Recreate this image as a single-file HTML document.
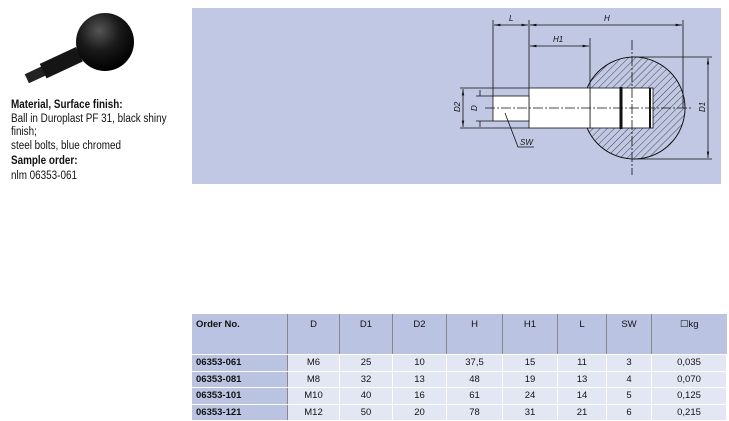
<!DOCTYPE html>
<html><head><meta charset="utf-8"><style>
body{margin:0;width:729px;height:420px;background:#fff;font-family:"Liberation Sans",sans-serif;position:relative;overflow:hidden}
.t{position:absolute;left:11px;font-size:11.5px;color:#111;white-space:nowrap;transform:scaleX(0.86);transform-origin:0 0}
.b{font-weight:bold}
table{position:absolute;left:192px;top:314px;width:535px;border-collapse:collapse;font-size:9.5px;color:#111}
td{border-right:1px solid #fff;border-bottom:1px solid #fff;text-align:center;height:15.5px;padding:0;background:#e3e7f3}
tr.h td{background:#bac3e1;height:35px;vertical-align:top;padding-top:5px;border-right:1px solid #888}
td.f{text-align:left;padding-left:4px;font-weight:bold;background:#bac3e1;border-right:1px solid #888}
</style></head><body>
<svg style="position:absolute;left:0;top:0" width="190" height="90">
<defs><radialGradient id="g" cx="0.4" cy="0.3" r="0.7"><stop offset="0" stop-color="#555"/><stop offset="0.5" stop-color="#1a1a1a"/><stop offset="1" stop-color="#000"/></radialGradient></defs>
<g transform="rotate(-25 60 60)">
<rect x="22" y="58" width="20" height="10" fill="#222"/>
<rect x="40" y="55" width="40" height="16" fill="#151515"/>
</g>
<circle cx="105" cy="42" r="29" fill="url(#g)"/>
</svg>
<div class="t b" style="top:99px">Material, Surface finish:</div>
<div class="t" style="top:113px">Ball in Duroplast PF 31, black shiny</div>
<div class="t" style="top:126px">finish;</div>
<div class="t" style="top:140px">steel bolts, blue chromed</div>
<div class="t b" style="top:155px">Sample order:</div>
<div class="t" style="top:170px">nlm 06353-061</div>

<svg style="position:absolute;left:192px;top:8px" width="529" height="176" viewBox="192 8 529 176">
<rect x="192" y="8" width="529" height="176" fill="#c0c8e4"/>
<defs><pattern id="h" width="5" height="5" patternUnits="userSpaceOnUse" patternTransform="rotate(45)"><line x1="0" y1="0" x2="0" y2="5" stroke="#222" stroke-width="0.8"/></pattern>
<marker id="a" markerWidth="8" markerHeight="6" refX="8" refY="3" orient="auto-start-reverse"><path d="M0,1.5 L8,3 L0,4.5z" fill="#111"/></marker></defs>
<g stroke="#111" stroke-width="0.8" fill="none">
<circle cx="634" cy="108" r="51" fill="url(#h)"/>
<circle cx="634" cy="108" r="51"/>
<rect x="590" y="88" width="63" height="40" fill="#fff"/>
<rect x="529" y="88" width="61" height="40" fill="#fff"/>
<rect x="493" y="96" width="36" height="25" fill="#fff"/>
<line x1="621" y1="87" x2="621" y2="129" stroke-width="3"/>
<line x1="650" y1="88" x2="650" y2="128" stroke-width="2"/>
<line x1="485" y1="108" x2="692" y2="108" stroke-dasharray="10,2,2,2"/>
<line x1="632" y1="40" x2="632" y2="175" stroke-dasharray="10,2,2,2"/>
<line x1="493" y1="20" x2="493" y2="96"/><line x1="529" y1="20" x2="529" y2="88"/>
<line x1="683" y1="20" x2="683" y2="108"/><line x1="590" y1="38" x2="590" y2="88"/>
<line x1="494" y1="25" x2="528" y2="25" marker-start="url(#a)" marker-end="url(#a)"/>
<line x1="530" y1="25" x2="682" y2="25" marker-start="url(#a)" marker-end="url(#a)"/>
<line x1="530" y1="46" x2="589" y2="46" marker-start="url(#a)" marker-end="url(#a)"/>
<line x1="634" y1="57" x2="712" y2="57"/><line x1="634" y1="159" x2="712" y2="159"/>
<line x1="708" y1="58" x2="708" y2="158" marker-start="url(#a)" marker-end="url(#a)"/>
<line x1="460" y1="88" x2="529" y2="88"/><line x1="460" y1="128" x2="529" y2="128"/>
<line x1="476" y1="96" x2="493" y2="96"/><line x1="476" y1="121" x2="493" y2="121"/>
<line x1="463" y1="89" x2="463" y2="127" marker-start="url(#a)" marker-end="url(#a)"/>
<line x1="480" y1="90" x2="480" y2="96" /><line x1="480" y1="121" x2="480" y2="127"/>
<polyline points="505,113 518,147 534,147"/>
</g>
<g font-size="8" font-style="italic" fill="#111" font-family="Liberation Sans, sans-serif">
<text x="509" y="21">L</text><text x="604" y="21">H</text><text x="553" y="42">H1</text>
<text x="520" y="145">SW</text>
<text transform="translate(460 112) rotate(-90)">D2</text>
<text transform="translate(477 111) rotate(-90)">D</text>
<text transform="translate(705 112) rotate(-90)">D1</text>
</g>
</svg>

<table>
<tr class="h"><td class="f" style="width:91px">Order No.</td><td style="width:51px">D</td><td style="width:52px">D1</td><td style="width:53px">D2</td><td style="width:55px">H</td><td style="width:54px">H1</td><td style="width:48px">L</td><td style="width:44px">SW</td><td style="border-right:none">☐kg</td></tr>
<tr><td class="f">06353-061</td><td>M6</td><td>25</td><td>10</td><td>37,5</td><td>15</td><td>11</td><td>3</td><td>0,035</td></tr>
<tr><td class="f">06353-081</td><td>M8</td><td>32</td><td>13</td><td>48</td><td>19</td><td>13</td><td>4</td><td>0,070</td></tr>
<tr><td class="f">06353-101</td><td>M10</td><td>40</td><td>16</td><td>61</td><td>24</td><td>14</td><td>5</td><td>0,125</td></tr>
<tr><td class="f">06353-121</td><td>M12</td><td>50</td><td>20</td><td>78</td><td>31</td><td>21</td><td>6</td><td>0,215</td></tr>
</table>
</body></html>
